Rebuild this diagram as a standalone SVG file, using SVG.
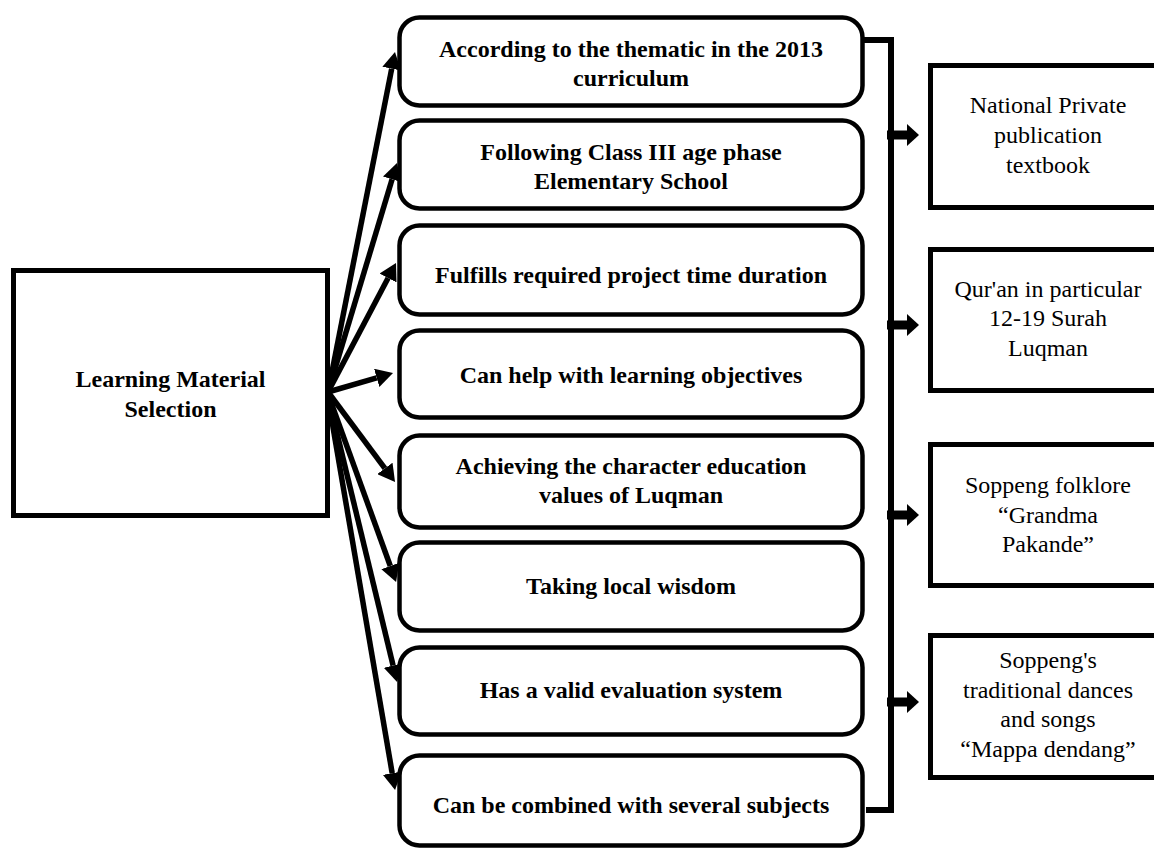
<svg xmlns="http://www.w3.org/2000/svg" width="1154" height="854" viewBox="0 0 1154 854">
<defs>
<style>
.bg{fill:#ffffff}
.sq{fill:#ffffff;stroke:#000000;stroke-width:5}
.rd{fill:#ffffff;stroke:#000000;stroke-width:4.5}
.bt{font-family:"Liberation Serif","Times New Roman",serif;font-size:24px;font-weight:bold;fill:#000000;text-anchor:middle}
.rt{font-family:"Liberation Serif","Times New Roman",serif;font-size:24px;fill:#000000;text-anchor:middle}
.fan{fill:none;stroke:#000000;stroke-width:5.5;marker-end:url(#ah)}
.br{fill:none;stroke:#000000;stroke-width:6}
</style>
<marker id="ah" markerUnits="userSpaceOnUse" markerWidth="17" markerHeight="19" refX="0" refY="9.5" orient="auto">
<path d="M0,0 L17,9.5 L0,19 z" fill="#000000"/>
</marker>
<g id="rarrow">
<rect x="0" y="-4.5" width="22" height="9" fill="#000000"/>
<path d="M20,-11 L32,0 L20,11 z" fill="#000000"/>
</g>
</defs>
<rect class="bg" x="0" y="0" width="1154" height="854"/>

<g id="connectors">
<line class="fan" x1="328" y1="392" x2="391.7" y2="68.7"/>
<line class="fan" x1="328" y1="392" x2="392.1" y2="179.3"/>
<line class="fan" x1="328" y1="392" x2="388.1" y2="278.0"/>
<line class="fan" x1="328" y1="392" x2="376.7" y2="377.8"/>
<line class="fan" x1="328" y1="392" x2="384.9" y2="468.4"/>
<line class="fan" x1="328" y1="394" x2="390.3" y2="566.0"/>
<line class="fan" x1="328" y1="396" x2="393.1" y2="665.5"/>
<line class="fan" x1="328" y1="398" x2="392.2" y2="773.2"/>
<polyline class="br" points="864,40 891,40 891,810 866,810"/>
<use href="#rarrow" x="887" y="135"/>
<use href="#rarrow" x="887" y="325"/>
<use href="#rarrow" x="887" y="515"/>
<use href="#rarrow" x="887" y="702"/>
</g>

<g id="n-main">
<rect class="sq" x="13.5" y="270.5" width="314" height="245"/>
<text class="bt" x="170.5" y="387">Learning Material</text>
<text class="bt" x="170.5" y="417">Selection</text>
</g>

<g id="n-c1">
<rect class="rd" x="399.5" y="17.5" width="463" height="88" rx="20"/>
<text class="bt" x="631" y="57">According to the thematic in the 2013</text>
<text class="bt" x="631" y="86">curriculum</text>
</g>
<g id="n-c2">
<rect class="rd" x="399.5" y="120.5" width="463" height="88" rx="20"/>
<text class="bt" x="631" y="160">Following Class III age phase</text>
<text class="bt" x="631" y="189">Elementary School</text>
</g>
<g id="n-c3">
<rect class="rd" x="399.5" y="225.5" width="463" height="89" rx="20"/>
<text class="bt" x="631" y="283">Fulfills required project time duration</text>
</g>
<g id="n-c4">
<rect class="rd" x="399.5" y="330.5" width="463" height="87" rx="20"/>
<text class="bt" x="631" y="383">Can help with learning objectives</text>
</g>
<g id="n-c5">
<rect class="rd" x="399.5" y="435.5" width="463" height="92" rx="20"/>
<text class="bt" x="631" y="474">Achieving the character education</text>
<text class="bt" x="631" y="503">values of Luqman</text>
</g>
<g id="n-c6">
<rect class="rd" x="399.5" y="542.5" width="463" height="88" rx="20"/>
<text class="bt" x="631" y="594">Taking local wisdom</text>
</g>
<g id="n-c7">
<rect class="rd" x="399.5" y="647.5" width="463" height="87" rx="20"/>
<text class="bt" x="631" y="698">Has a valid evaluation system</text>
</g>
<g id="n-c8">
<rect class="rd" x="399.5" y="755.5" width="463" height="90" rx="20"/>
<text class="bt" x="631" y="813">Can be combined with several subjects</text>
</g>

<g id="n-r1">
<rect class="sq" x="930.5" y="65.5" width="240" height="142"/>
<text class="rt" x="1048" y="113">National Private</text>
<text class="rt" x="1048" y="143">publication</text>
<text class="rt" x="1048" y="173">textbook</text>
</g>
<g id="n-r2">
<rect class="sq" x="930.5" y="249.5" width="240" height="141"/>
<text class="rt" x="1048" y="297">Qur'an in particular</text>
<text class="rt" x="1048" y="326">12-19 Surah</text>
<text class="rt" x="1048" y="356">Luqman</text>
</g>
<g id="n-r3">
<rect class="sq" x="930.5" y="444.5" width="240" height="141"/>
<text class="rt" x="1048" y="493">Soppeng folklore</text>
<text class="rt" x="1048" y="523">“Grandma</text>
<text class="rt" x="1048" y="552">Pakande”</text>
</g>
<g id="n-r4">
<rect class="sq" x="930.5" y="635.5" width="240" height="142"/>
<text class="rt" x="1048" y="668">Soppeng's</text>
<text class="rt" x="1048" y="698">traditional dances</text>
<text class="rt" x="1048" y="727">and songs</text>
<text class="rt" x="1048" y="757">“Mappa dendang”</text>
</g>
</svg>
